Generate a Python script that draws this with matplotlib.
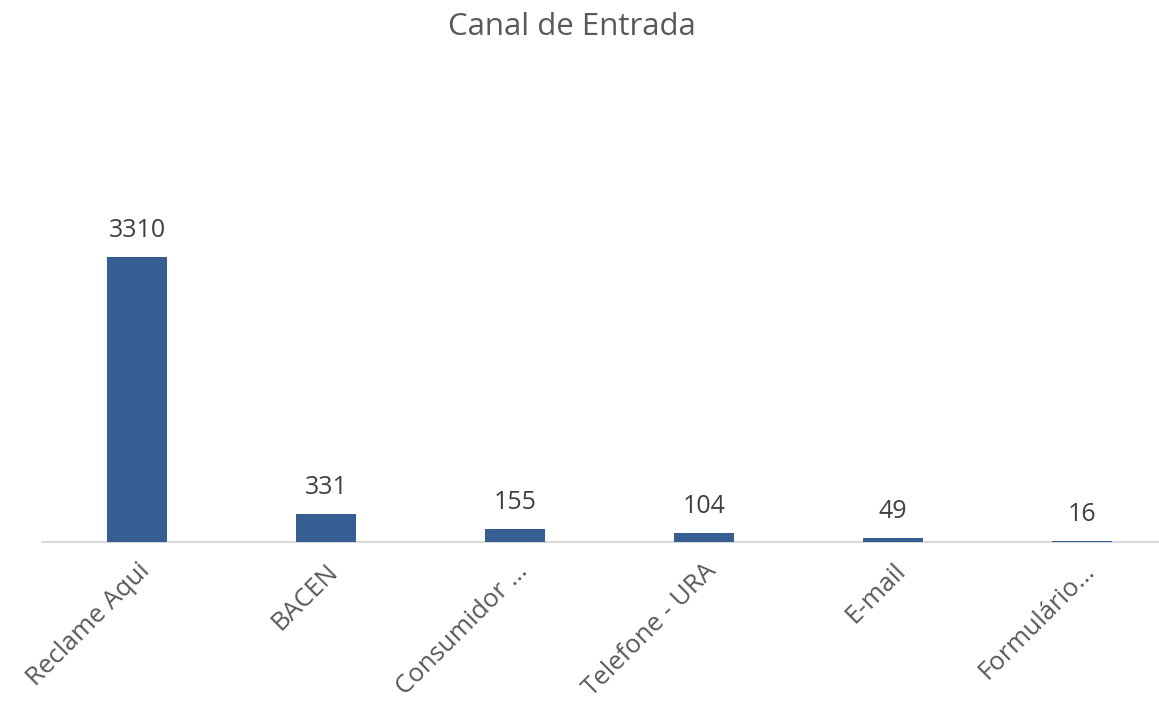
import matplotlib.pyplot as plt

canais = ["Reclame Aqui", "BACEN", "Consumidor ...", "Telefone - URA", "E-mail", "Formulário..."]
quantidades = [3310, 331, 155, 104, 49, 16]

bar_col = "#365E92"
txt_col = "#404040"

plt.rcParams['font.family'] = ['Open Sans', 'DejaVu Sans']

W, H = 1159, 704
fig = plt.figure(figsize=(W / 100, H / 100), dpi=100)

# axes spans one category step per bar; right end runs past the figure edge
step = 189
x0 = 137 - step / 2
base = 542
ymax = 5000
px_per_unit = 285 / 3310
ax_h = ymax * px_per_unit
ax = fig.add_axes([x0 / W, (H - base) / H, step * len(canais) / W, ax_h / H])

x = range(len(canais))
bars = ax.bar(x, quantidades, width=60 / step, color=bar_col, zorder=3)
ax.set_xlim(-0.5, len(canais) - 0.5)
ax.set_ylim(0, ymax)

for b, v in zip(bars, quantidades):
    ax.annotate(str(v), (b.get_x() + b.get_width() / 2, v), xytext=(0, 10),
                textcoords="offset points", ha="center", va="bottom",
                fontsize=18, color=txt_col)

for s in ["top", "right", "left"]:
    ax.spines[s].set_visible(False)
ax.spines["bottom"].set_color("#D9D9D9")
ax.spines["bottom"].set_linewidth(1.5)
ax.set_yticks([])
ax.set_xticks(list(x))
ax.set_xticklabels(canais, rotation=45, ha="right", rotation_mode="anchor",
                   fontsize=18.5, color="#595959")
ax.tick_params(axis="x", length=0, pad=12)

fig.text(572 / W, 1 - 27 / H, "Canal de Entrada", ha="center", va="center",
         fontsize=22.5, color="#595959")

fig.savefig("out.png", dpi=100)
